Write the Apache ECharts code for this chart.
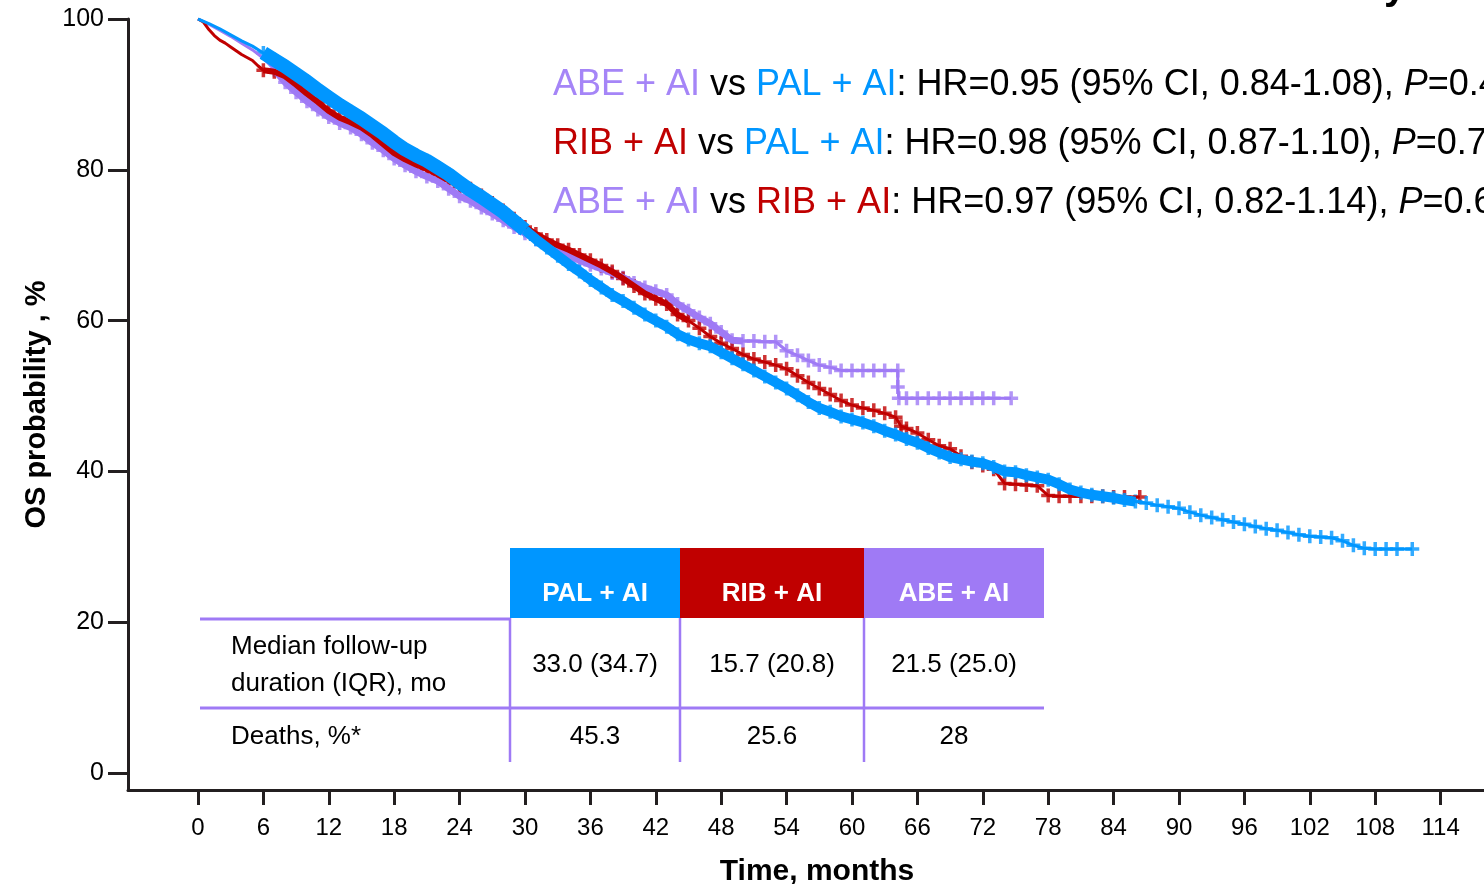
<!DOCTYPE html>
<html>
<head>
<meta charset="utf-8">
<title>OS probability</title>
<script src="https://cdn.jsdelivr.net/npm/echarts@6/dist/echarts.min.js"></script>
<style>
    html, body { margin: 0; padding: 0; background: #fff; }
    #divChart { width: 1484px; height: 884px; }
</style>
</head>
<body>
<div id="divChart"></div>
<script>
    // tick labels
    var xTicks = [0, 6, 12, 18, 24, 30, 36, 42, 48, 54, 60, 66, 72, 78, 84, 90, 96, 102, 108, 114];
    var yTicks = [0, 20, 40, 60, 80, 100];

    // [months, OS %]
    var palAI = [[0,100],[1,99.4],[2,98.7],[3,97.9],[4,97.1],[5,96.4],[6,95.5],[7,94.6],[8,93.7],[9,92.7],
        [10,91.7],[11,90.6],[12,89.6],[13,88.6],[14,87.7],[15,86.8],[16,85.8],[17,84.8],[18,83.7],[19,82.7],
        [20,81.9],[21,81.2],[22,80.3],[23,79.4],[24,78.3],[25,77.3],[26,76.4],[27,75.4],[28,74.4],[29,73.2],
        [30,72.0],[31,70.8],[32,69.7],[33,68.6],[34,67.5],[35,66.5],[36,65.4],[37,64.4],[38,63.4],[39,62.6],
        [40,61.7],[41,60.8],[42,60.0],[43,59.2],[44,58.2],[45,57.5],[46,57.0],[47,56.6],[48,55.8],[49,55.0],
        [50,54.2],[51,53.4],[52,52.6],[53,51.8],[54,51.0],[55,50.1],[56,49.2],[57,48.4],[58,47.9],[59,47.3],
        [60,46.9],[61,46.5],[62,46.0],[63,45.4],[64,44.9],[65,44.3],[66,43.8],[67,43.1],[68,42.5],[69,41.9],
        [70,41.6],[71,41.3],[72,41.1],[73,40.6],[74,40.0],[75,39.9],[76,39.5],[77,39.2],[78,38.9],[79,38.3],
        [80,37.6],[81,37.2],[82,36.9],[83,36.7],[84,36.5],[85,36.2],[86,36.0],[87,35.8],[88,35.5],[89,35.3],
        [90,35.1],[91,34.6],[92,34.2],[93,33.9],[94,33.6],[95,33.3],[96,33.0],[97,32.7],[98,32.4],[99,32.2],
        [100,31.9],[101,31.6],[102,31.4],[103,31.3],[104,31.2],[105,30.8],[106,30.2],[107,29.8],[108,29.7],
        [109,29.7],[110,29.7],[111.4,29.7]];
    var ribAI = [[0,100],[0.5,99.6],[1,98.6],[1.5,97.8],[2,97.2],[2.5,96.8],[3,96.3],[4,95.3],[5,94.5],[5.5,93.8],
        [6,93.2],[7,93.0],[8,92.4],[9,91.3],[10,90.1],[11,89.0],[12,87.8],[13,86.9],[14,86.3],[15,85.6],
        [16,84.6],[17,83.4],[18,82.2],[19,81.4],[20,80.7],[21,80.1],[22,79.4],[23,78.6],[24,77.8],[25,77.5],
        [26,76.6],[27,75.6],[28,74.6],[29,73.5],[30,72.4],[31,71.5],[32,70.7],[33,70.0],[34,69.4],[35,68.7],
        [36,68.0],[37,67.3],[38,66.5],[39,65.6],[40,64.6],[41,63.6],[42,62.9],[43,62.2],[44,60.8],[45,60.0],
        [46,59.0],[47,57.9],[48,57.0],[49,56.3],[50,55.5],[51,54.9],[52,54.5],[53,54.1],[54,53.6],[55,52.7],
        [56,51.8],[57,51.0],[58,50.2],[59,49.4],[60,48.8],[61,48.4],[62,48.1],[63,47.7],[64,47.2],[64.5,46.0],
        [65,45.7],[66,45.1],[67,44.2],[68,43.4],[69,43.0],[70,42.0],[71,41.2],[72,40.8],[73,40.3],[74,38.4],
        [75,38.3],[76,38.2],[77,38.1],[78,36.8],[79,36.7],[80,36.7],[81,36.7],[82,36.7],[83,36.7],[84,36.6],
        [85,36.6],[86.4,36.6]];
    var abeAI = [[0,100],[1,99.3],[2,98.5],[3,97.7],[4,96.8],[5,95.9],[6,94.8],[7,93.3],[8,91.6],[9,90.3],
        [10,89.1],[11,88.0],[12,87.0],[13,86.2],[14,85.6],[15,84.7],[16,83.6],[17,82.6],[18,81.5],[19,80.6],
        [20,79.8],[21,79.1],[22,78.5],[23,77.5],[24,76.5],[25,75.9],[26,75.0],[27,74.2],[28,73.3],[29,72.4],
        [30,71.6],[31,70.8],[32,70.2],[33,69.4],[34,68.6],[35,68.0],[36,67.4],[37,66.9],[38,66.3],[39,65.7],
        [40,65.0],[41,64.4],[42,63.9],[43,63.4],[44,62.2],[45,61.3],[46,60.4],[47,59.6],[48,58.5],[49,57.4],
        [50,57.3],[51,57.3],[52,57.2],[53,57.2],[54,56.0],[55,55.4],[56,54.7],[57,54.1],[58,53.8],[59,53.4],
        [60,53.4],[61,53.4],[62,53.4],[63,53.4],[64.2,53.4],[64.2,51.2],[64.3,49.7],[65,49.7],[66,49.7],
        [67,49.7],[68,49.7],[69,49.7],[70,49.7],[71,49.7],[72,49.7],[73,49.7],[74.6,49.7]];

    // hazard ratio annotations
    var hrRows = [
        ['abe', 'ABE + AI', 'pal', 'PAL + AI', 'HR=0.95 (95% CI, 0.84-1.08), ', '=0.4'],
        ['rib', 'RIB + AI', 'pal', 'PAL + AI', 'HR=0.98 (95% CI, 0.87-1.10), ', '=0.7'],
        ['abe', 'ABE + AI', 'rib', 'RIB + AI', 'HR=0.97 (95% CI, 0.82-1.14), ', '=0.6']
    ];

    // summary table
    var tableHeads = ['PAL + AI', 'RIB + AI', 'ABE + AI'];
    var followUp = ['33.0 (34.7)', '15.7 (20.8)', '21.5 (25.0)'];
    var deaths = ['45.3', '25.6', '28'];

    var BLUE = '#0096ff', RED = '#c00000', PURPLE = '#9f7af5', INK = '#231f20';
    var FONT = 'Liberation Sans, Arial, sans-serif';
    var PLUS = 'path://M4.5,0H7.5V4.5H12V7.5H7.5V12H4.5V7.5H0V4.5H4.5Z';

    function kmLine(data, color, width) {
        return {
            type: 'line', data: data, symbol: 'none', showSymbol: false,
            lineStyle: { color: color, width: width }, silent: true
        };
    }
    function censor(data, color, size) {
        return {
            type: 'scatter', data: data, symbol: PLUS, symbolSize: size,
            itemStyle: { color: color }, silent: true
        };
    }
    function after(data, t0, t1) {
        return data.filter(function (p) { return p[0] >= t0 && p[0] <= (t1 === undefined ? 999 : t1); });
    }

    var colX = [510, 680, 864, 1044];
    var graphics = [];
    // header cells
    var headColors = [BLUE, RED, PURPLE];
    for (var i = 0; i < 3; i++) {
        var cx = (colX[i] + colX[i + 1]) / 2;
        graphics.push({ type: 'rect', shape: { x: colX[i], y: 548, width: colX[i + 1] - colX[i], height: 70 }, style: { fill: headColors[i] } });
        graphics.push({ type: 'text', x: cx, y: 594, style: { text: tableHeads[i], fill: '#fff', font: 'bold 26px ' + FONT, align: 'center', verticalAlign: 'middle' } });
        graphics.push({ type: 'text', x: cx, y: 665, style: { text: followUp[i], fill: '#000', font: '26px ' + FONT, align: 'center', verticalAlign: 'middle' } });
        graphics.push({ type: 'text', x: cx, y: 737, style: { text: deaths[i], fill: '#000', font: '26px ' + FONT, align: 'center', verticalAlign: 'middle' } });
    }
    graphics.push({ type: 'line', shape: { x1: 200, y1: 619, x2: 510, y2: 619 }, style: { stroke: PURPLE, lineWidth: 3 } });
    graphics.push({ type: 'line', shape: { x1: 200, y1: 708, x2: 1044, y2: 708 }, style: { stroke: PURPLE, lineWidth: 3 } });
    for (var j = 0; j < 3; j++) {
        graphics.push({ type: 'line', shape: { x1: colX[j], y1: 618, x2: colX[j], y2: 762 }, style: { stroke: PURPLE, lineWidth: 2.5 } });
    }
    graphics.push({ type: 'text', x: 231, y: 647, style: { text: 'Median follow-up', fill: '#000', font: '26px ' + FONT, verticalAlign: 'middle' } });
    graphics.push({ type: 'text', x: 231, y: 684, style: { text: 'duration (IQR), mo', fill: '#000', font: '26px ' + FONT, verticalAlign: 'middle' } });
    graphics.push({ type: 'text', x: 231, y: 737, style: { text: 'Deaths, %*', fill: '#000', font: '26px ' + FONT, verticalAlign: 'middle' } });

    // HR lines
    var richHR = {
        abe: { fill: '#a585f7', font: '36px ' + FONT },
        pal: { fill: BLUE, font: '36px ' + FONT },
        rib: { fill: RED, font: '36px ' + FONT },
        k: { fill: '#000', font: '36px ' + FONT },
        it: { fill: '#000', font: 'italic 36px ' + FONT }
    };
    hrRows.forEach(function (r, k) {
        var txt = '{' + r[0] + '|' + r[1] + '}{k| vs }{' + r[2] + '|' + r[3] + '}{k|: ' + r[4] + '}{it|P}{k|' + r[5] + '}';
        graphics.push({ type: 'text', x: 553, y: 85 + k * 59, style: { text: txt, rich: richHR, verticalAlign: 'middle', font: '36px ' + FONT } });
    });
    // tail of the cut-off title
    graphics.push({ type: 'text', x: 1384, y: 8, style: { text: 'y', fill: '#000', font: 'bold 40px ' + FONT, verticalAlign: 'bottom' } });

    var myChart = echarts.init(document.getElementById('divChart'));
    var option = {
        animation: false,
        backgroundColor: '#fff',
        grid: { left: 128, top: 19, width: 1378, height: 771, containLabel: false, outerBoundsMode: 'none' },
        xAxis: {
            type: 'value', min: -6.42, max: 120,
            name: 'Time, months', nameLocation: 'middle', nameGap: 67,
            nameTextStyle: { fontFamily: FONT, fontWeight: 'bold', fontSize: 30, color: '#000' },
            axisLine: { show: true, onZero: false, lineStyle: { color: INK, width: 3 } },
            axisTick: { show: true, customValues: xTicks, length: 15, lineStyle: { color: INK, width: 3 } },
            axisLabel: { customValues: xTicks, fontFamily: FONT, fontSize: 24, color: '#000', margin: 26 },
            splitLine: { show: false }
        },
        yAxis: {
            type: 'value', min: -2.25, max: 100,
            name: 'OS probability , %', nameLocation: 'middle', nameGap: 76, nameRotate: 90,
            nameTextStyle: { fontFamily: FONT, fontWeight: 'bold', fontSize: 29, color: '#000' },
            axisLine: { show: true, onZero: false, lineStyle: { color: INK, width: 3 } },
            axisTick: { show: true, customValues: yTicks, length: 20, lineStyle: { color: INK, width: 3 } },
            axisLabel: { customValues: yTicks, fontFamily: FONT, fontSize: 25, color: '#000', margin: 24 },
            splitLine: { show: false }
        },
        series: [
            kmLine(abeAI, PURPLE, 3),
            kmLine(after(abeAI, 7, 50), PURPLE, 7),
            censor(after(abeAI, 7), PURPLE, 14),
            kmLine(ribAI, RED, 3),
            kmLine(after(ribAI, 6, 45), RED, 6),
            censor(after(ribAI, 6), RED, 14),
            kmLine(palAI, BLUE, 3),
            kmLine(after(palAI, 6, 30), BLUE, 14),
            kmLine(after(palAI, 30, 86), BLUE, 10),
            censor(after(palAI, 6), BLUE, 14)
        ],
        graphic: graphics
    };
    myChart.setOption(option);
</script>
</body>
</html>
